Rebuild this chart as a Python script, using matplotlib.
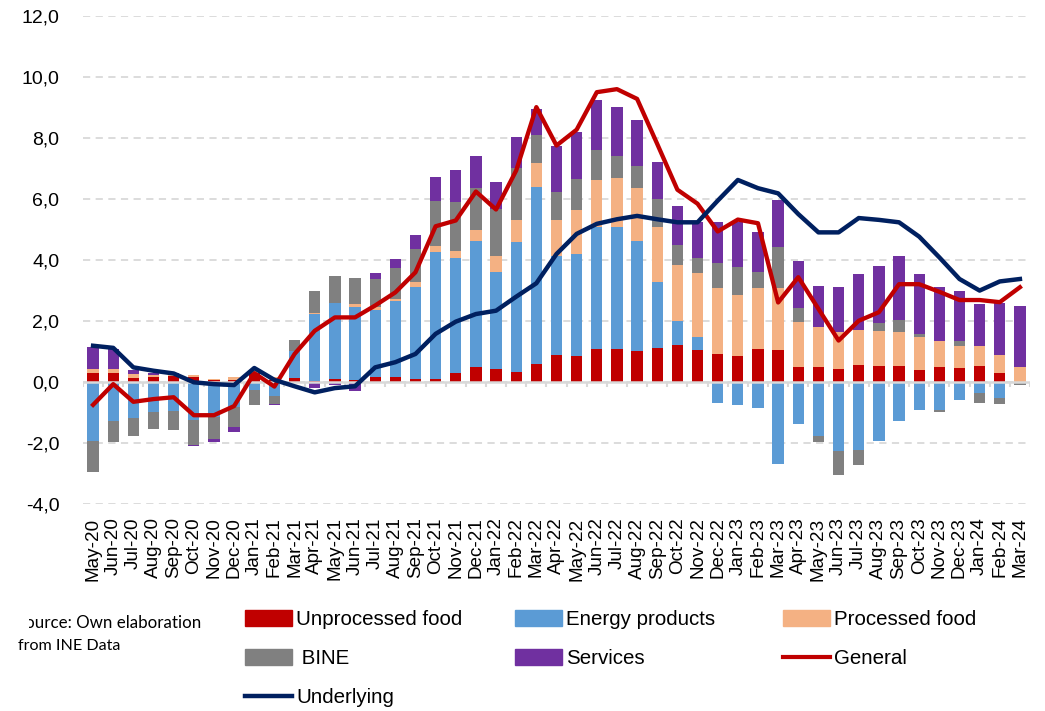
import numpy as np
import matplotlib
matplotlib.use("Agg")
import matplotlib.pyplot as plt
from matplotlib.patches import Patch
from matplotlib.lines import Line2D
from matplotlib.transforms import Bbox
from matplotlib.ticker import FuncFormatter

plt.rcParams['font.family'] = ['Liberation Sans', 'DejaVu Sans']

months = ['May-20', 'Jun-20', 'Jul-20', 'Aug-20', 'Sep-20', 'Oct-20', 'Nov-20', 'Dec-20',
          'Jan-21', 'Feb-21', 'Mar-21', 'Apr-21', 'May-21', 'Jun-21', 'Jul-21', 'Aug-21',
          'Sep-21', 'Oct-21', 'Nov-21', 'Dec-21',
          'Jan-22', 'Feb-22', 'Mar-22', 'Apr-22', 'May-22', 'Jun-22', 'Jul-22', 'Aug-22',
          'Sep-22', 'Oct-22', 'Nov-22', 'Dec-22',
          'Jan-23', 'Feb-23', 'Mar-23', 'Apr-23', 'May-23', 'Jun-23', 'Jul-23', 'Aug-23',
          'Sep-23', 'Oct-23', 'Nov-23', 'Dec-23',
          'Jan-24', 'Feb-24', 'Mar-24']

unprocessed_food = [0.28, 0.28, 0.13, 0.14, 0.20, 0.15, 0.07, 0.07,
                    0.28, 0.05, 0.13, 0.02, 0.10, 0.07, 0.16, 0.16, 0.09, 0.08, 0.27, 0.47,
                    0.42, 0.33, 0.58, 0.88, 0.83, 1.07, 1.07, 1.02, 1.09, 1.22, 1.04, 0.91,
                    0.83, 1.07, 1.05, 0.49, 0.49, 0.42, 0.56, 0.53, 0.53, 0.38, 0.49, 0.45,
                    0.50, 0.30, 0.00]

energy_products = [-1.95, -1.28, -1.20, -1.00, -0.95, -1.25, -1.15, -0.82,
                   -0.26, -0.48, 0.89, 2.20, 2.47, 2.39, 2.19, 2.50, 3.03, 4.17, 3.79, 4.16,
                   3.19, 4.27, 5.80, 3.23, 3.35, 4.02, 4.02, 3.61, 2.17, 0.76, 0.44, -0.69,
                   -0.78, -0.87, -2.70, -1.39, -1.77, -2.27, -2.24, -1.96, -1.28, -0.93, -0.94, -0.60,
                   -0.38, -0.55, 0.00]

processed_food = [0.14, 0.14, 0.13, 0.08, 0.03, 0.08, 0.03, 0.07,
                  0.06, 0.10, 0.00, 0.05, 0.02, 0.09, 0.11, 0.07, 0.15, 0.21, 0.24, 0.35,
                  0.50, 0.69, 0.80, 1.21, 1.45, 1.53, 1.60, 1.72, 1.81, 1.86, 2.10, 2.18,
                  2.03, 2.02, 2.01, 1.48, 1.29, 1.20, 1.15, 1.14, 1.11, 1.08, 0.83, 0.73,
                  0.68, 0.58, 0.47]

bine = [-1.00, -0.70, -0.57, -0.55, -0.65, -0.82, -0.73, -0.66,
        -0.49, -0.25, 0.36, 0.72, 0.89, 0.85, 0.91, 1.00, 1.10, 1.48, 1.60, 1.36,
        1.56, 1.73, 0.92, 0.92, 1.03, 0.99, 0.73, 0.74, 0.91, 0.63, 0.48, 0.79,
        0.89, 0.52, 1.35, 0.46, -0.22, -0.78, -0.49, 0.27, 0.39, 0.11, -0.06, 0.17,
        -0.33, -0.18, -0.10]

services = [0.71, 0.66, 0.14, 0.08, 0.05, -0.05, -0.10, -0.18,
            0.00, -0.04, -0.03, -0.22, -0.10, -0.30, 0.20, 0.30, 0.46, 0.79, 1.05, 1.07,
            0.87, 1.00, 0.86, 1.51, 1.54, 1.62, 1.59, 1.50, 1.24, 1.31, 1.17, 1.35,
            1.48, 1.29, 1.56, 1.52, 1.37, 1.50, 1.83, 1.86, 2.11, 1.97, 1.80, 1.61,
            1.37, 1.69, 2.02]

general = [-0.76, -0.08, -0.66, -0.57, -0.51, -1.10, -1.10, -0.80,
           0.28, -0.16, 0.91, 1.67, 2.11, 2.11, 2.50, 2.93, 3.59, 5.10, 5.29, 6.24,
           5.65, 6.93, 9.01, 7.75, 8.27, 9.50, 9.60, 9.28, 7.80, 6.30, 5.84, 4.93,
           5.32, 5.20, 2.60, 3.43, 2.39, 1.35, 2.00, 2.28, 3.20, 3.20, 2.95, 2.68,
           2.68, 2.61, 3.10]

underlying = [1.18, 1.11, 0.47, 0.36, 0.27, -0.02, -0.08, -0.11,
              0.45, 0.06, -0.15, -0.35, -0.21, -0.15, 0.47, 0.64, 0.91, 1.57, 1.97, 2.22,
              2.33, 2.79, 3.23, 4.19, 4.85, 5.18, 5.33, 5.44, 5.33, 5.23, 5.23, 5.94,
              6.62, 6.35, 6.18, 5.50, 4.90, 4.90, 5.37, 5.31, 5.23, 4.76, 4.08, 3.37,
              2.99, 3.29, 3.37]

C_UNPROC = '#C00000'
C_ENERGY = '#5B9BD5'
C_PROC = '#F4B183'
C_BINE = '#808080'
C_SERV = '#7030A0'
C_GEN = '#C00000'
C_UND = '#002060'

W, H = 1045, 711
fig = plt.figure(figsize=(W / 100, H / 100), dpi=100)
ax = fig.add_axes([83 / W, (H - 503.6) / H, 947 / W, 487.6 / H])

n = len(months)
x = np.arange(n)
pos_bottom = np.zeros(n)
neg_bottom = np.zeros(n)
for vals, col in [(unprocessed_food, C_UNPROC), (energy_products, C_ENERGY),
                  (processed_food, C_PROC), (bine, C_BINE), (services, C_SERV)]:
    v = np.array(vals, dtype=float)
    pos = np.where(v > 0, v, 0)
    neg = np.where(v < 0, v, 0)
    ax.bar(x, pos, bottom=pos_bottom, width=0.56, color=col, linewidth=0, zorder=2)
    ax.bar(x, neg, bottom=neg_bottom, width=0.56, color=col, linewidth=0, zorder=2)
    pos_bottom += pos
    neg_bottom += neg

# zero axis with category tick marks
ax.axhline(0, color='#D9D9D9', lw=1.8, zorder=3)
ax.vlines(np.arange(n + 1) - 0.5, -0.17, 0, colors='#D9D9D9', lw=1.5, zorder=3)

ax.plot(x, general, color=C_GEN, lw=3.1, zorder=4, solid_joinstyle='round')
ax.plot(x, underlying, color=C_UND, lw=3.2, zorder=5, solid_joinstyle='round')

ax.set_xlim(-0.5, n - 0.5)
ax.set_ylim(-4, 12)
ax.set_yticks(np.arange(-4, 13, 2))
ax.yaxis.set_major_formatter(FuncFormatter(lambda v, p: f"{v:.1f}".replace('.', ',')))
ax.set_xticks(x)
ax.set_xticklabels(months, rotation=90)
ax.tick_params(axis='y', length=0, pad=17, labelsize=14)
ax.tick_params(axis='x', length=0, pad=10, labelsize=13.6)
ax.yaxis.grid(True, color='#D9D9D9', ls=(0, (4, 3)), lw=1.3)
ax.set_axisbelow(True)
for s in ax.spines.values():
    s.set_visible(False)

# legend in three columns
leg_kw = dict(loc='upper left', frameon=False, fontsize=14.8, handlelength=2.29,
              handleheight=0.82, handletextpad=0.2, labelspacing=0.97,
              borderpad=0, borderaxespad=0)
col1 = [Patch(color=C_UNPROC), Patch(color=C_BINE), Line2D([], [], color=C_UND, lw=3.2)]
col2 = [Patch(color=C_ENERGY), Patch(color=C_SERV)]
col3 = [Patch(color=C_PROC), Line2D([], [], color=C_GEN, lw=3.0)]
top = (H - 610) / H
fig.legend(col1, ['Unprocessed food', ' BINE', 'Underlying'],
           bbox_to_anchor=(245 / W, top), **leg_kw)
fig.legend(col2, ['Energy products', 'Services'],
           bbox_to_anchor=(515 / W, top), **leg_kw)
fig.legend(col3, ['Processed food', 'General'],
           bbox_to_anchor=(783 / W, top), **leg_kw)

# source note (left part clipped as in the reference)
t1 = fig.text(201 / W, (H - 623) / H, 'Source: Own elaboration', ha='right', va='center',
              fontsize=12.2, family=['Lato', 'DejaVu Sans'])
t1.set_clip_on(True)
t1.set_clip_box(Bbox([[29, 0], [400, H]]))
fig.text(18 / W, (H - 646) / H, 'from INE Data', ha='left', va='center',
         fontsize=11.6, family=['Lato', 'DejaVu Sans'])

fig.savefig('out.png', dpi=100)
